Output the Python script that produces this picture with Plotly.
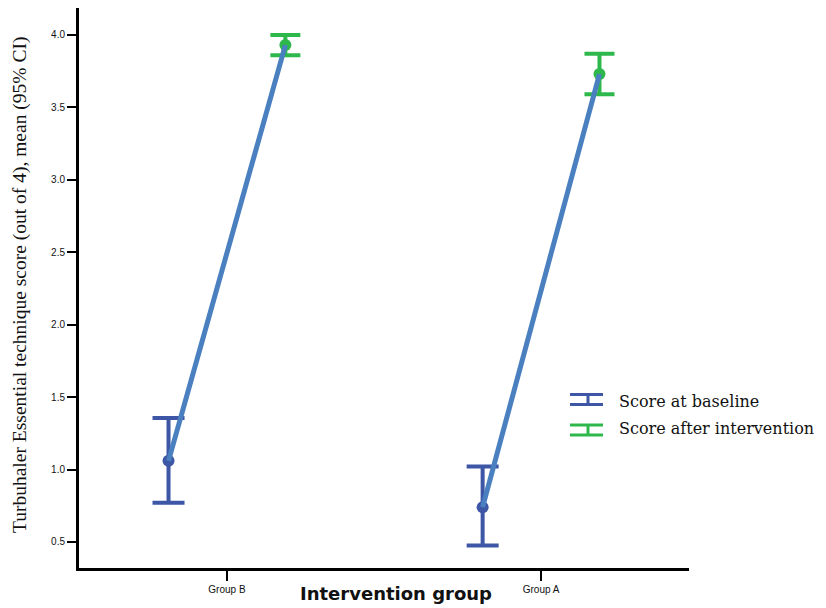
import plotly.graph_objects as go

# Mean essential-technique score with 95% CI, before and after the intervention
groups = ["Group B", "Group A"]
baseline_mean = [1.06, 0.74]
baseline_lo = [0.77, 0.475]
baseline_hi = [1.355, 1.02]
after_mean = [3.93, 3.73]
after_lo = [3.86, 3.59]
after_hi = [4.00, 3.87]
y_ticks = [0.5, 1.0, 1.5, 2.0, 2.5, 3.0, 3.5, 4.0]

BLUE = "#3d56a6"
GREEN = "#2eb84c"
LINE = "#4a7fc0"
SERIF = "Liberation Serif, Times New Roman, serif"
WIDE_SERIF = "DejaVu Serif, serif"
SANS = "Liberation Sans, Arial, sans-serif"
WIDE_SANS = "DejaVu Sans, Verdana, sans-serif"

W, H = 826, 608
L, R, T, B = 79, 137, 8, 40
PW, PH = W - L - R, H - T - B

def px(x):
    return (x - L) / PW

def py(y):
    return (H - B - y) / PH

cat_x = list(range(len(groups)))
off = 0.186
xb = [c - off for c in cat_x]
xa = [c + off for c in cat_x]

fig = go.Figure()

fig.add_trace(go.Scatter(
    x=xb, y=baseline_mean, mode="markers",
    marker=dict(color=BLUE, size=12),
    error_y=dict(type="data", symmetric=False,
                 array=[h - m for h, m in zip(baseline_hi, baseline_mean)],
                 arrayminus=[m - l for m, l in zip(baseline_mean, baseline_lo)],
                 color=BLUE, thickness=4, width=16),
    showlegend=False, hoverinfo="skip"))

fig.add_trace(go.Scatter(
    x=xa, y=after_mean, mode="markers",
    marker=dict(color=GREEN, size=12),
    error_y=dict(type="data", symmetric=False,
                 array=[h - m for h, m in zip(after_hi, after_mean)],
                 arrayminus=[m - l for m, l in zip(after_mean, after_lo)],
                 color=GREEN, thickness=4, width=15),
    showlegend=False, hoverinfo="skip"))

# connecting line from baseline mean to post-intervention mean per group
lx, ly = [], []
for i in range(len(groups)):
    lx += [xb[i], xa[i], None]
    ly += [baseline_mean[i], after_mean[i], None]
fig.add_trace(go.Scatter(x=lx, y=ly, mode="lines",
                         line=dict(color=LINE, width=5),
                         showlegend=False, hoverinfo="skip"))

# legend drawn as error-bar glyphs with serif labels
legend = [("Score at baseline", BLUE, 399.5, 402),
          ("Score after intervention", GREEN, 430, 428)]
shapes = []
annotations = []
for label, col, gy, ty in legend:
    x0, x1, xm = 570, 603, 588
    for yy in (gy - 5, gy + 5):
        shapes.append(dict(type="line", xref="paper", yref="paper",
                           x0=px(x0), x1=px(x1), y0=py(yy), y1=py(yy),
                           line=dict(color=col, width=3)))
    shapes.append(dict(type="line", xref="paper", yref="paper",
                       x0=px(xm), x1=px(xm), y0=py(gy - 5), y1=py(gy + 5),
                       line=dict(color=col, width=3)))
    annotations.append(dict(text=label, xref="paper", yref="paper",
                            x=px(617), y=py(ty), xanchor="left", yanchor="middle",
                            showarrow=False,
                            font=dict(family=WIDE_SERIF, size=16, color="#111")))

annotations.append(dict(text="Turbuhaler Essential technique score (out of 4), mean (95% CI)",
                        xref="paper", yref="paper", x=px(20), y=py(285),
                        xanchor="center", yanchor="middle", textangle=-90,
                        showarrow=False,
                        font=dict(family=SERIF, size=19.5, color="#111")))
annotations.append(dict(text="<b>Intervention group</b>",
                        xref="paper", yref="paper", x=px(396), y=py(593),
                        xanchor="center", yanchor="middle", showarrow=False,
                        font=dict(family=WIDE_SANS, size=18, color="#111")))

fig.update_layout(
    width=W, height=H,
    margin=dict(l=L, r=R, t=T, b=B),
    plot_bgcolor="white", paper_bgcolor="white",
    shapes=shapes, annotations=annotations,
    xaxis=dict(range=[-0.471, 1.471], tickmode="array", tickvals=cat_x,
               ticktext=groups, showgrid=False, zeroline=False,
               showline=True, linecolor="black", linewidth=3,
               ticks="outside", ticklen=10, tickwidth=2, tickcolor="black",
               tickfont=dict(family=SANS, size=10, color="#111")),
    yaxis=dict(range=[0.32, 4.186], tickmode="array", tickvals=y_ticks,
               ticktext=[f"{v:.1f}" for v in y_ticks],
               showgrid=False, zeroline=False,
               showline=True, linecolor="black", linewidth=3,
               ticks="outside", ticklen=9, tickwidth=2, tickcolor="black",
               tickfont=dict(family=SANS, size=10, color="#111")),
)

fig.write_html("out.html")
